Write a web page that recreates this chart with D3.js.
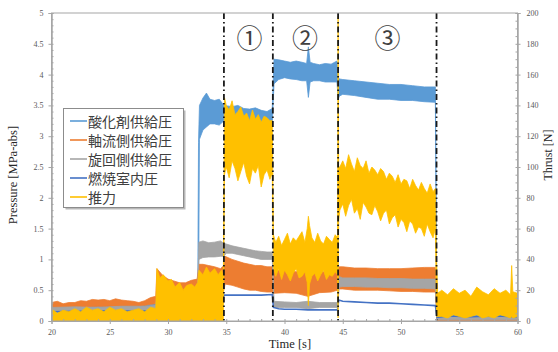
<!DOCTYPE html>
<html><head><meta charset="utf-8">
<script src="https://cdn.jsdelivr.net/npm/d3@7"></script>
<style>body{margin:0;background:#fff}svg{display:block}</style>
</head><body>
<svg id="c" width="558" height="352"></svg>
<script>
// ---------- data ----------
const xTicks = [20,25,30,35,40,45,50,55,60];
const pressureTicks = [0,0.5,1,1.5,2,2.5,3,3.5,4,4.5,5];
const thrustTicks = [0,20,40,60,80,100,120,140,160,180,200];
const seriesNames = ["酸化剤供給圧","軸流側供給圧","旋回側供給圧","燃焼室内圧","推力"];
const seriesColors = ["#5B9BD5","#ED7D31","#A5A5A5","#4472C4","#FFC000"];
const phaseLines = [34.8, 39.0, 44.6, 53.05];
const phaseLabels = ["①","②","③"];
const phaseLabelTimes = [37.0, 41.75, 48.85];

// oxidizer supply pressure [MPa] (noise band)
const oxTime = [20,22,24,26,28,30,32,32.55,32.62,32.7,33,33.3,33.6,34,34.4,34.8,35.5,36,36.5,37,37.5,38,38.5,38.95,39.1,39.5,40,40.5,41,41.5,41.9,42.05,42.2,42.5,43,43.5,44,44.5,44.62,44.7,45,46,47,48,49,50,51,52,52.95,53.08,54,55,56,57,58,59,60];
const oxLow  = [0.14,0.15,0.14,0.15,0.16,0.18,0.18,0.2,0.3,2.95,3.1,3.15,3.2,3.2,3.18,3.25,3.28,3.25,3.24,3.22,3.2,3.2,3.18,3.2,3.85,3.92,3.95,3.93,3.92,3.9,3.9,3.63,3.88,3.9,3.9,3.88,3.88,3.88,3.6,3.65,3.68,3.66,3.63,3.6,3.6,3.58,3.58,3.56,3.55,0.03,0.03,0.04,0.03,0.03,0.04,0.03,0.03];
const oxHigh = [0.24,0.25,0.24,0.25,0.26,0.3,0.3,0.32,2.9,3.5,3.62,3.7,3.6,3.58,3.6,3.5,3.48,3.5,3.45,3.44,3.46,3.42,3.4,3.45,4.25,4.24,4.22,4.2,4.22,4.2,4.18,4.45,4.2,4.18,4.16,4.18,4.17,4.22,3.95,3.93,3.92,3.9,3.88,3.86,3.84,3.84,3.82,3.8,3.8,0.15,0.1,0.1,0.1,0.1,0.1,0.1,0.1];

// axial supply pressure [MPa]
const axTime = [20,20.5,21,21.5,22,22.5,23,23.5,24,24.5,25,25.5,26,26.5,27,27.5,28,28.5,28.95,29.05,29.5,30,30.5,31,31.5,32,32.5,32.65,33,33.5,34,34.5,34.8,34.9,35.5,36,36.5,37,37.5,38,38.5,38.95,39.1,40,41,42,43,44,44.55,44.7,45,46,47,48,49,50,51,52,52.95,53.1,54,56,58,60];
const axLow  = [0.2,0.2,0.2,0.22,0.22,0.23,0.22,0.23,0.24,0.23,0.24,0.23,0.24,0.24,0.23,0.24,0.25,0.27,0.28,0.4,0.45,0.4,0.4,0.38,0.4,0.45,0.45,0.5,0.5,0.45,0.42,0.42,0.5,0.6,0.58,0.55,0.52,0.5,0.5,0.48,0.47,0.47,0.45,0.46,0.45,0.4,0.46,0.47,0.5,0.52,0.52,0.5,0.5,0.5,0.49,0.48,0.48,0.47,0.47,0,0,0,0,0];
const axHigh = [0.3,0.32,0.28,0.3,0.3,0.33,0.32,0.35,0.34,0.35,0.33,0.36,0.34,0.33,0.32,0.3,0.33,0.38,0.4,0.85,0.75,0.68,0.65,0.62,0.62,0.66,0.68,0.92,0.92,0.9,0.88,0.85,0.9,1.05,1.0,0.97,0.94,0.92,0.9,0.9,0.88,0.88,0.82,0.82,0.8,0.82,0.8,0.8,0.82,0.88,0.88,0.86,0.86,0.85,0.85,0.85,0.86,0.87,0.87,0.08,0.06,0.06,0.06,0.06];

// swirl supply pressure [MPa]
const swTime = [20,22,24,26,28,28.95,29.05,32.55,32.65,33,33.5,34,34.5,34.8,35,35.5,36,36.5,37,37.5,38,38.5,38.95,39.1,40,41,42,43,44,44.55,44.7,45,46,47,48,49,50,51,52,52.95,53.1,60];
const swLow  = [0.14,0.15,0.15,0.16,0.16,0.17,0.25,0.3,1.0,1.03,1.04,1.04,1.05,1.05,1.1,1.1,1.08,1.06,1.04,1.02,1.0,1.0,1.0,0.22,0.22,0.22,0.2,0.22,0.22,0.22,0.55,0.56,0.56,0.55,0.55,0.54,0.54,0.53,0.53,0.52,0.02,0.02];
const swHigh = [0.22,0.23,0.22,0.24,0.24,0.25,0.45,0.5,1.28,1.3,1.27,1.28,1.3,1.26,1.25,1.22,1.2,1.18,1.16,1.14,1.13,1.12,1.12,0.32,0.31,0.3,0.32,0.3,0.3,0.3,0.72,0.7,0.7,0.7,0.69,0.69,0.69,0.68,0.68,0.68,0.07,0.07];

// combustion chamber pressure [MPa]
const ccTime = [20,24,28,32.55,32.65,34.8,36,37,38,38.95,39.05,39.5,40,41,42,43,44,44.55,44.65,45,46,47,48,49,50,51,52,52.95,53.1,54,56,58,60];
const ccValue = [0.15,0.16,0.16,0.18,0.4,0.42,0.42,0.42,0.42,0.43,0.22,0.2,0.19,0.19,0.18,0.18,0.18,0.18,0.34,0.32,0.31,0.3,0.29,0.29,0.28,0.27,0.26,0.25,0.06,0.08,0.07,0.08,0.07];

// thrust [N] (noise band)
const thTime = [20,20.5,21,21.5,22,22.5,23,23.5,24,24.5,25,25.5,26,26.5,27,27.5,28,28.5,28.95,
 29.05,29.3,29.6,30,30.3,30.6,31,31.3,31.6,32,32.3,32.55,32.65,33,33.3,33.6,34,34.3,34.6,34.75,
 34.85,35,35.25,35.5,35.75,36,36.25,36.5,36.75,37,37.25,37.5,37.75,38,38.25,38.5,38.75,38.95,
 39.05,39.25,39.5,39.75,40,40.25,40.5,40.75,41,41.25,41.5,41.75,41.95,42.05,42.15,42.35,42.6,42.85,43.1,43.35,43.6,43.85,44.1,44.35,44.55,
 44.6,44.65,
 44.75,45,45.25,45.5,45.75,46,46.25,46.5,46.75,47,47.25,47.5,47.75,48,48.25,48.5,48.75,49,49.25,49.5,49.75,50,50.25,50.5,50.75,51,51.25,51.5,51.75,52,52.25,52.5,52.75,52.95,
 53.05,53.15,53.5,54,54.5,55,55.5,56,56.5,57,57.5,58,58.5,59,59.4,59.5,59.6,60];
const thLow = [0,0,0,0,0,0,0,0,0,0,0,0,0,0,0,0,0,0,0,
 0,0,0,0,0,0,0,0,0,0,0,0,0,0,0,0,0,0,0,0,
 95,100,93,104,99,91,97,103,94,89,99,96,101,87,95,98,92,96,
 35,29,34,27,33,30,26,31,34,28,29,32,25,10,24,29,31,26,30,33,27,30,29,32,30,
 2,65,
 72,76,68,75,79,70,73,66,77,74,70,69,75,71,65,70,72,63,67,69,61,66,64,58,65,63,57,61,60,55,63,58,54,60,
 3,3,3,2,4,3,2,3,4,2,3,2,4,3,2,3,2,3];
const thHigh = [8,5,7,6,8,6,9,7,8,6,9,7,8,6,7,8,6,9,8,
 34,28,30,26,27,22,25,20,23,24,22,25,33,30,35,31,34,30,33,28,
 145,140,137,143,134,136,139,133,135,130,137,131,134,129,133,132,130,130,
 56,51,55,49,53,57,50,54,52,55,58,51,60,68,62,54,51,57,52,50,55,53,51,56,54,
 198,100,
 100,104,99,108,102,97,106,101,99,104,96,100,98,95,99,97,92,96,94,90,95,89,92,91,86,92,88,85,90,86,83,89,84,86,
 40,18,20,17,21,18,20,16,22,19,17,21,18,20,17,36,19,18];

// ---------- chart ----------
const svg = d3.select("#c");
const L = 51.5, R = 517.5, T = 13, B = 321;
const x = d3.scaleLinear([20,60],[L,R]);
const yP = d3.scaleLinear([0,5],[B,T]);
const yT = d3.scaleLinear([0,200],[B,T]);
const serif = "'Liberation Serif','DejaVu Serif',serif";
const tickCol = "#595959";

svg.append("clipPath").attr("id","pc").append("rect")
  .attr("x",L).attr("y",T).attr("width",R-L).attr("height",B-T);
const plot = svg.append("g").attr("clip-path","url(#pc)");

function band(time, lo, hi, ys, color){
  const d = time.map((t,i)=>({t, lo:lo[i], hi:hi[i]}));
  const area = d3.area().x(p=>x(p.t)).y0(p=>ys(p.lo)).y1(p=>ys(p.hi));
  plot.append("path").datum(d).attr("d",area)
    .attr("fill",color).attr("stroke",color).attr("stroke-width",0.8).attr("stroke-linejoin","round");
}
band(oxTime, oxLow, oxHigh, yP, seriesColors[0]);
band(axTime, axLow, axHigh, yP, seriesColors[1]);
band(swTime, swLow, swHigh, yP, seriesColors[2]);
plot.append("path").datum(ccTime.map((t,i)=>({t,v:ccValue[i]})))
  .attr("d", d3.line().x(p=>x(p.t)).y(p=>yP(p.v)))
  .attr("fill","none").attr("stroke",seriesColors[3]).attr("stroke-width",1.6);
band(thTime, thLow, thHigh, yT, seriesColors[4]);

// phase lines
svg.append("g").selectAll("line").data(phaseLines).join("line")
  .attr("x1",d=>x(d)).attr("x2",d=>x(d)).attr("y1",T).attr("y2",B)
  .attr("stroke","#1a1a1a").attr("stroke-width",1.8).attr("stroke-dasharray","6,3,1.5,3");

// phase labels
svg.append("g").selectAll("text").data(phaseLabels).join("text")
  .attr("x",(d,i)=>x(phaseLabelTimes[i])).attr("y",36)
  .attr("text-anchor","middle").attr("dominant-baseline","central")
  .attr("font-family","'Noto Sans CJK JP','DejaVu Sans',sans-serif").attr("font-size",26)
  .attr("fill","#404040").text(d=>d);

// frame
svg.append("rect").attr("x",L).attr("y",T).attr("width",R-L).attr("height",B-T)
  .attr("fill","none").attr("stroke","#a6a6a6").attr("stroke-width",1);

// axes
svg.append("g").attr("transform",`translate(${L},0)`)
  .call(d3.axisLeft(yP).tickValues(pressureTicks).tickFormat(d=>String(d)).tickSize(3).tickPadding(5));
svg.append("g").attr("transform",`translate(${R},0)`)
  .call(d3.axisRight(yT).tickValues(thrustTicks).tickFormat(d=>String(d)).tickSize(3).tickPadding(6));
svg.append("g").attr("transform",`translate(0,${B})`)
  .call(d3.axisBottom(x).tickValues(xTicks).tickFormat(d=>String(d)).tickSize(3).tickPadding(5));
// minor ticks (inside)
svg.append("g").attr("transform",`translate(${L},0)`)
  .call(d3.axisRight(yP).tickValues(d3.range(0,5.01,0.1)).tickFormat("").tickSize(2));
svg.append("g").attr("transform",`translate(${R},0)`)
  .call(d3.axisLeft(yT).tickValues(d3.range(0,200.1,5)).tickFormat("").tickSize(2));
svg.append("g").attr("transform",`translate(0,${B})`)
  .call(d3.axisTop(x).tickValues(d3.range(20,60.1,1)).tickFormat("").tickSize(2));
svg.selectAll(".domain").attr("stroke","#a6a6a6");
svg.selectAll(".tick line").attr("stroke","#a6a6a6");
svg.selectAll(".tick text").attr("font-family",serif).attr("font-size",8).attr("fill",tickCol);

// axis titles
svg.append("text").attr("transform","translate(17,175) rotate(-90)").attr("text-anchor","middle")
  .attr("font-family",serif).attr("font-size",12.5).attr("fill","#262626").text("Pressure [MPa-abs]");
svg.append("text").attr("transform","translate(552,155) rotate(-90)").attr("text-anchor","middle")
  .attr("font-family",serif).attr("font-size",12).attr("fill","#262626").text("Thrust [N]");
svg.append("text").attr("x",290).attr("y",348).attr("text-anchor","middle")
  .attr("font-family",serif).attr("font-size",12.5).attr("fill","#262626").text("Time [s]");

// legend
const lg = svg.append("g");
lg.append("rect").attr("x",65.5).attr("y",110.5).attr("width",120).attr("height",99).attr("fill","#9a9a9a").attr("opacity",0.7);
lg.append("rect").attr("x",63.5).attr("y",108.5).attr("width",120).attr("height",99)
  .attr("fill","#fff").attr("stroke","#8c8c8c").attr("stroke-width",1);
seriesNames.forEach((n,i)=>{
  const yy = 121 + i*19;
  lg.append("line").attr("x1",70).attr("x2",87).attr("y1",yy).attr("y2",yy)
    .attr("stroke",seriesColors[i]).attr("stroke-width",1.6);
  lg.append("text").attr("x",88).attr("y",yy).attr("dominant-baseline","central")
    .attr("font-family","'Noto Sans CJK JP',sans-serif").attr("font-size",14)
    .attr("fill","#404040").text(n);
});
</script>
</body></html>
